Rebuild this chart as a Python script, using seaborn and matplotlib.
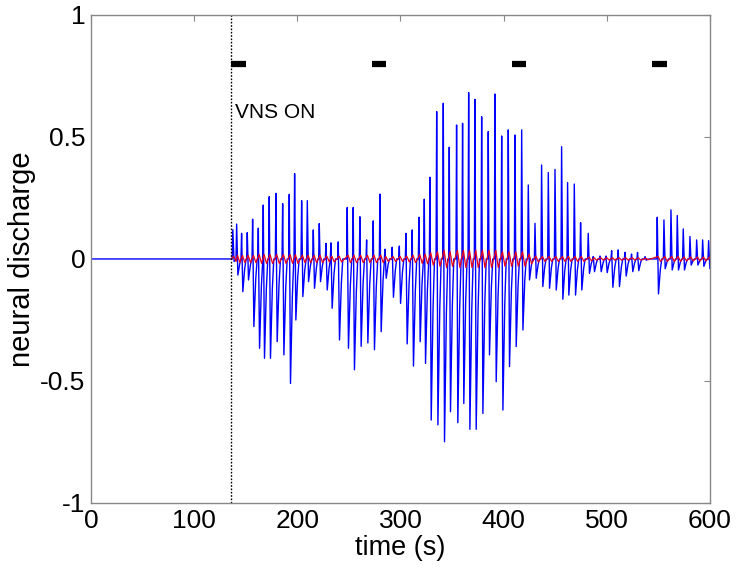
import numpy as np
import pandas as pd
import matplotlib
matplotlib.use("Agg")
import matplotlib.pyplot as plt
import seaborn as sns

# spike events (time in s, peak up, peak down)
spike_t = [137.5, 141.2, 146.0, 151.5, 156.7, 162.2, 167.0, 172.8, 179.3, 185.8,
           192.2, 197.4, 204.2, 209.7, 215.5, 221.3, 227.8, 232.6, 239.7, 248.4,
           254.2, 260.7, 267.2, 273.6, 280.1, 285.0, 292.0, 298.9, 305.3, 311.4,
           317.9, 323.1, 328.6, 335.1, 341.5, 347.3, 354.4, 360.2, 366.1, 372.2,
           378.7, 385.1, 391.6, 398.1, 404.5, 411.0, 417.5, 423.9, 430.4, 436.8,
           443.3, 449.8, 456.2, 462.0, 468.5, 474.6, 482.0, 486.9, 493.4, 499.2,
           504.7, 511.1, 517.6, 524.0, 529.8, 537.0, 548.9, 555.4, 562.2, 568.3,
           574.1, 580.6, 587.1, 592.9, 598.7]
spike_up = [0.12, 0.143, 0.105, 0.108, 0.163, 0.126, 0.221, 0.255, 0.269, 0.227,
            0.265, 0.350, 0.239, 0.239, 0.119, 0.145, 0.064, 0.066, 0.070, 0.211,
            0.211, 0.173, 0.078, 0.156, 0.266, 0.040, 0.048, 0.053, 0.105, 0.119,
            0.171, 0.245, 0.335, 0.604, 0.638, 0.458, 0.549, 0.556, 0.682, 0.654,
            0.583, 0.522, 0.676, 0.504, 0.529, 0.508, 0.529, 0.303, 0.146, 0.385,
            0.354, 0.367, 0.460, 0.313, 0.307, 0.149, 0.105, 0.010, 0.012, 0.012,
            0.034, 0.037, 0.027, 0.020, 0.027, 0.010, 0.171, 0.160, 0.201, 0.178,
            0.123, 0.092, 0.078, 0.078, 0.075]
spike_down = [-0.01, -0.066, -0.134, -0.086, -0.277, -0.366, -0.407, -0.407, -0.339, -0.393,
              -0.510, -0.250, -0.154, -0.093, -0.120, -0.093, -0.127, -0.202, -0.332, -0.366,
              -0.454, -0.358, -0.344, -0.372, -0.298, -0.079, -0.157, -0.182, -0.348, -0.439,
              -0.339, -0.428, -0.660, -0.680, -0.749, -0.626, -0.671, -0.592, -0.698, -0.698,
              -0.633, -0.393, -0.503, -0.619, -0.441, -0.359, -0.291, -0.086, -0.079, -0.113,
              -0.120, -0.127, -0.165, -0.148, -0.148, -0.127, -0.059, -0.052, -0.052, -0.056,
              -0.116, -0.113, -0.070, -0.052, -0.048, -0.005, -0.143, -0.040, -0.045, -0.045,
              -0.045, -0.025, -0.025, -0.030, -0.040]
# filtered (red) trace amplitude at each event
red_amp = [0.01, 0.015, 0.015, 0.015, 0.015, 0.018, 0.018, 0.018, 0.018, 0.018,
           0.018, 0.018, 0.015, 0.015, 0.015, 0.015, 0.012, 0.012, 0.012, 0.015,
           0.015, 0.015, 0.015, 0.015, 0.015, 0.01, 0.01, 0.01, 0.012, 0.015,
           0.018, 0.02, 0.025, 0.03, 0.035, 0.03, 0.035, 0.035, 0.035, 0.035,
           0.035, 0.035, 0.035, 0.03, 0.03, 0.03, 0.03, 0.02, 0.012, 0.01,
           0.01, 0.01, 0.01, 0.01, 0.01, 0.01, 0.008, 0.005, 0.005, 0.005,
           0.005, 0.005, 0.005, 0.005, 0.005, 0.003, 0.01, 0.01, 0.01, 0.01,
           0.008, 0.008, 0.008, 0.008, 0.008]

vns_on = 136
bar_start = [136, 272, 408, 544]
bar_end = [150, 286, 422, 558]
bar_level = 0.8

xticks = [0, 100, 200, 300, 400, 500, 600]
yticks = [-1, -0.5, 0, 0.5, 1]
ytick_labels = ["-1", "-0.5", "0", "0.5", "1"]

# build the traces
bx, by = [0, vns_on], [0, 0]
rx, ry = [vns_on], [0]
for t, u, d, a in zip(spike_t, spike_up, spike_down, red_amp):
    bx += [t - 0.6, t, t + 1.2, t + 3.0, t + 4.4]
    by += [0, u, d, d * 0.3, 0]
    rx += [t + 0.8, t + 3.2]
    ry += [a, -a]
bx.append(600)
by.append(0)
rx.append(600)
ry.append(0)
blue = pd.DataFrame({"time": bx, "val": by})
red = pd.DataFrame({"time": rx, "val": ry})

sns.set_style("white")
plt.rcParams["font.family"] = ["Liberation Sans", "DejaVu Sans"]
plt.rcParams["text.color"] = "black"
plt.rcParams["axes.labelcolor"] = "black"
plt.rcParams["xtick.color"] = "black"
plt.rcParams["ytick.color"] = "black"

fig = plt.figure(figsize=(7.39, 5.73), dpi=100)
ax = fig.add_axes([0.1231, 0.1222, 0.8376, 0.8517])

sns.lineplot(data=blue, x="time", y="val", sort=False, estimator=None,
             color="#0000ff", linewidth=1.0, ax=ax)
sns.lineplot(data=red, x="time", y="val", sort=False, estimator=None,
             color="#e8001c", linewidth=0.9, ax=ax)

ax.axvline(vns_on, color="black", linestyle=(0, (1.2, 1.2)), linewidth=1.0)
ax.hlines([bar_level] * len(bar_start), bar_start, bar_end, color="black", linewidth=4.5)
ax.text(vns_on + 4, 0.6, "VNS ON", fontsize=15, va="center", ha="left", color="black")

ax.set_xlim(0, 600)
ax.set_ylim(-1, 1)
ax.set_xticks(xticks)
ax.set_xticklabels([str(x) for x in xticks])
ax.set_yticks(yticks)
ax.set_yticklabels(ytick_labels)
ax.tick_params(direction="in", length=4, width=0.8, color="#888888",
               labelcolor="black", labelsize=19, pad=4, top=True, right=True)
for s in ax.spines.values():
    s.set_color("#888888")
    s.set_linewidth(1.0)
ax.set_xlabel("time (s)", fontsize=19.5, labelpad=1.5, color="black")
ax.set_ylabel("neural discharge", fontsize=21, labelpad=3, color="black")

plt.savefig("out.png", dpi=100)
